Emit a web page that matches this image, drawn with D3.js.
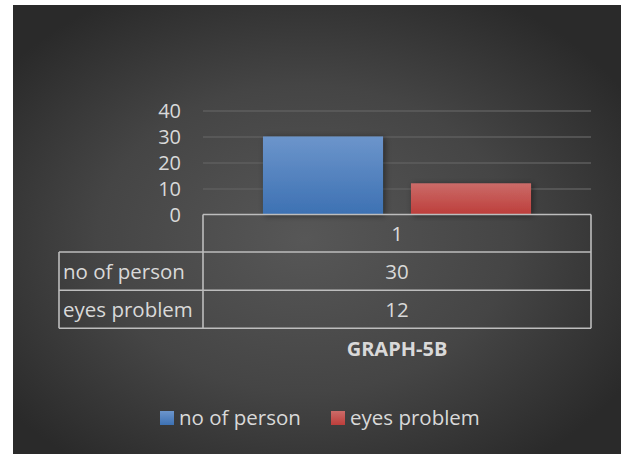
<!DOCTYPE html>
<html>
<head>
<meta charset="utf-8">
<script src="https://cdn.jsdelivr.net/npm/d3@7"></script>
<style>
  html, body { margin: 0; padding: 0; background: #ffffff; }
  svg { display: block; }
  text { font-family: "Open Sans", Lato, "DejaVu Sans", sans-serif; fill: #d9d9d9; }
</style>
</head>
<body>
<svg id="chart" width="625" height="454"></svg>
<script>
const categories = ["1"];
const seriesNames = ["no of person", "eyes problem"];
const seriesValues = [30, 12];
const yTicks = [0, 10, 20, 30, 40];
const chartTitle = "GRAPH-5B";

const colorsTop = ["#6c95cb", "#cb6b68"];
const colorsBottom = ["#3d71b3", "#bd3e3b"];

const svg = d3.select("#chart");
const defs = svg.append("defs");

// background radial gradient
const bg = defs.append("radialGradient").attr("id", "bg")
  .attr("cx", "0.48").attr("cy", "0.52").attr("r", "0.62");
bg.append("stop").attr("offset", "0").attr("stop-color", "#575757");
bg.append("stop").attr("offset", "0.55").attr("stop-color", "#454545");
bg.append("stop").attr("offset", "1").attr("stop-color", "#2a2a2a");

seriesNames.forEach((s, i) => {
  const g = defs.append("linearGradient").attr("id", "bar" + i)
    .attr("x1", 0).attr("y1", 0).attr("x2", 0).attr("y2", 1);
  g.append("stop").attr("offset", "0").attr("stop-color", colorsTop[i]);
  g.append("stop").attr("offset", "1").attr("stop-color", colorsBottom[i]);
});

const shadow = defs.append("filter").attr("id", "shadow")
  .attr("x", "-20%").attr("y", "-20%").attr("width", "140%").attr("height", "140%");
shadow.append("feDropShadow").attr("dx", 2).attr("dy", 1).attr("stdDeviation", 3)
  .attr("flood-color", "#000").attr("flood-opacity", 0.45);

svg.append("rect").attr("x", 13).attr("y", 5).attr("width", 608).attr("height", 449)
  .attr("fill", "url(#bg)");

const plotLeft = 203, plotRight = 591;
const y = d3.scaleLinear().domain([0, 40]).range([214.5, 110.5]);
const x0 = d3.scaleBand().domain(categories).range([plotLeft, plotRight]);
const bw = x0.bandwidth();
const x1 = d3.scaleBand().domain(seriesNames)
  .range([bw * 0.1546, bw * 0.8454]).paddingInner(0.189);

// gridlines
const grid = svg.append("g").attr("transform", `translate(${plotLeft},0)`)
  .call(d3.axisLeft(y).tickValues(yTicks).tickSize(-(plotRight - plotLeft)).tickFormat(""));
grid.select(".domain").remove();
grid.selectAll(".tick line").attr("stroke", "#5e5e5e").attr("stroke-width", 1.5);
grid.selectAll(".tick").filter(d => d === 0).remove();

// y axis labels
const yAxis = svg.append("g").attr("transform", "translate(181,0)")
  .call(d3.axisLeft(y).tickValues(yTicks).tickSize(0).tickPadding(0));
yAxis.select(".domain").remove();
yAxis.selectAll("text").attr("font-size", 20).style("fill", "#d9d9d9")
  .style("font-family", "'Open Sans', Lato, sans-serif").attr("dy", "0.36em");

// bars
const groups = svg.append("g").selectAll("g").data(categories).join("g")
  .attr("transform", d => `translate(${x0(d)},0)`);
groups.selectAll("rect").data(seriesNames.map((s, i) => ({ s, i, v: seriesValues[i] })))
  .join("rect")
  .attr("x", d => x1(d.s)).attr("width", x1.bandwidth())
  .attr("y", d => y(d.v)).attr("height", d => y(0) - y(d.v))
  .attr("fill", d => `url(#bar${d.i})`)
  .attr("filter", "url(#shadow)");

// data table
const rowTop = y(0);
const rowBounds = [rowTop, 252, 290.3, 328.3];
const tableLeft = 59;
const lineColor = "#bdbdbd";
const table = svg.append("g").attr("stroke", lineColor).attr("stroke-width", 1.6).attr("fill", "none");
table.append("line").attr("x1", plotLeft).attr("x2", plotRight).attr("y1", rowBounds[0]).attr("y2", rowBounds[0]);
for (let k = 1; k < rowBounds.length; k++) {
  table.append("line").attr("x1", tableLeft).attr("x2", plotRight)
    .attr("y1", rowBounds[k]).attr("y2", rowBounds[k]);
}
table.append("line").attr("x1", tableLeft).attr("x2", tableLeft).attr("y1", rowBounds[1]).attr("y2", rowBounds[3]);
table.append("line").attr("x1", plotLeft).attr("x2", plotLeft).attr("y1", rowBounds[0]).attr("y2", rowBounds[3]);
table.append("line").attr("x1", plotRight).attr("x2", plotRight).attr("y1", rowBounds[0]).attr("y2", rowBounds[3]);

const rowMid = k => (rowBounds[k] + rowBounds[k + 1]) / 2;
const tt = svg.append("g").attr("font-size", 20.5);
categories.forEach(c => {
  tt.append("text").attr("x", x0(c) + bw / 2).attr("y", rowMid(0)).attr("dy", "0.36em")
    .attr("text-anchor", "middle").text(c);
});
seriesNames.forEach((s, i) => {
  tt.append("text").attr("x", 63).attr("y", rowMid(i + 1)).attr("dy", "0.36em").text(s);
  categories.forEach(c => {
    tt.append("text").attr("x", x0(c) + bw / 2).attr("y", rowMid(i + 1)).attr("dy", "0.36em")
      .attr("text-anchor", "middle").text(seriesValues[i]);
  });
});

// title
svg.append("text").attr("x", x0(categories[0]) + bw / 2).attr("y", 356)
  .attr("text-anchor", "middle").attr("font-size", 20).attr("font-weight", "bold")
  .text(chartTitle);

// legend
const legendX = [160, 331];
const legend = svg.append("g");
seriesNames.forEach((s, i) => {
  legend.append("rect").attr("x", legendX[i]).attr("y", 411).attr("width", 14).attr("height", 14)
    .attr("fill", `url(#bar${i})`);
  legend.append("text").attr("x", legendX[i] + 19).attr("y", 418).attr("dy", "0.36em")
    .attr("font-size", 20.5).text(s);
});
</script>
</body>
</html>
